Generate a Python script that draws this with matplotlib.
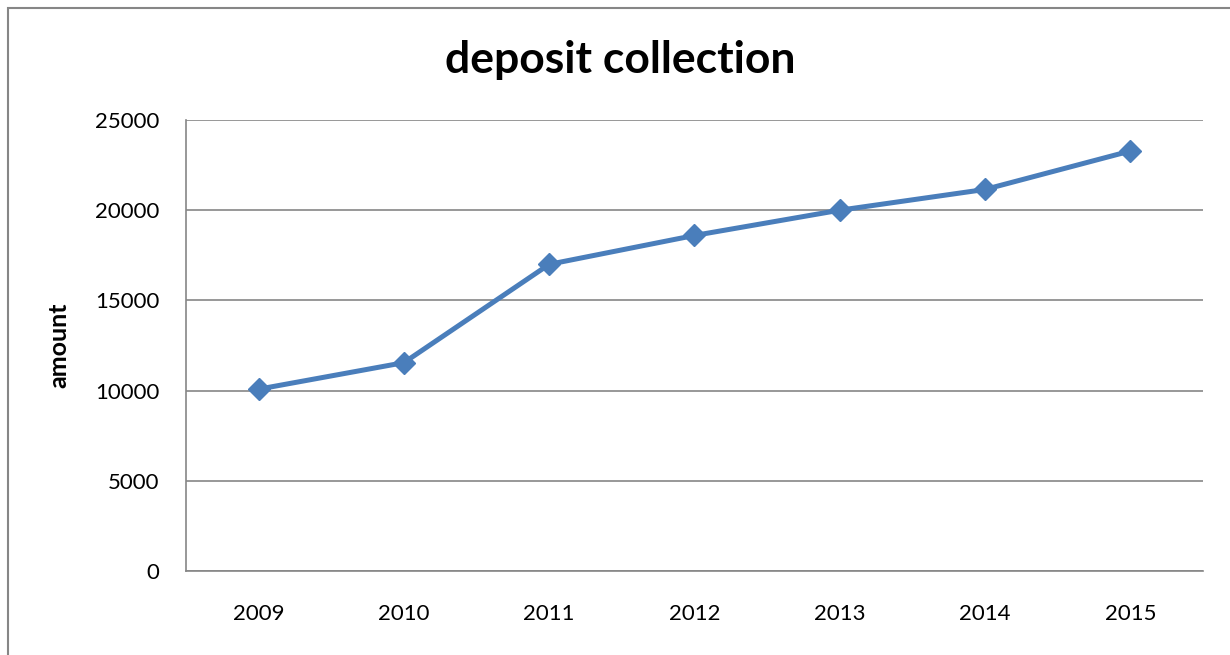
import matplotlib
matplotlib.use("Agg")
import matplotlib.pyplot as plt
from matplotlib.patches import Rectangle

# deposit collection per year
years = ["2009", "2010", "2011", "2012", "2013", "2014", "2015"]
amounts = [10080, 11550, 17000, 18600, 20000, 21150, 23280]
y_ticks = [0, 5000, 10000, 15000, 20000, 25000]

line_color = "#4A7EBB"
grid_color = "#868686"

plt.rcParams["font.family"] = ["Lato", "DejaVu Sans"]

fig = plt.figure(figsize=(12.3, 6.55), dpi=100)
ax = fig.add_axes([0.1512, 0.1282, 0.8268, 0.6886])

x = list(range(len(years)))
ax.plot(x, amounts, color=line_color, linewidth=3.6, marker="D",
        markersize=11, markeredgecolor=line_color, zorder=3)

ax.set_xlim(-0.5, len(years) - 0.5)
ax.set_ylim(0, 25000)
ax.set_xticks(x)
ax.set_xticklabels(years)
ax.set_yticks(y_ticks)
ax.tick_params(length=0, labelsize=16, colors="black")
ax.tick_params(axis="x", pad=24)
ax.tick_params(axis="y", pad=19)

ax.grid(axis="y", color=grid_color, linewidth=1.2)
ax.set_axisbelow(True)
for side in ["top", "right"]:
    ax.spines[side].set_visible(False)
for side in ["left", "bottom"]:
    ax.spines[side].set_color(grid_color)
    ax.spines[side].set_linewidth(1.2)

ax.set_ylabel("amount", fontsize=18, fontweight="bold")
ax.yaxis.set_label_coords(-0.114, 0.5)
fig.text(0.504, 0.908, "deposit collection", ha="center", va="center",
         fontsize=32, fontweight="bold")

# chart area border, cut off at the right and bottom edges
fig.patches.append(Rectangle((8 / 1230, -0.1), 1.2, 1.1 - 8 / 655,
                             transform=fig.transFigure, fill=False,
                             edgecolor=grid_color, linewidth=1.5))

fig.savefig("out.png", dpi=100)
